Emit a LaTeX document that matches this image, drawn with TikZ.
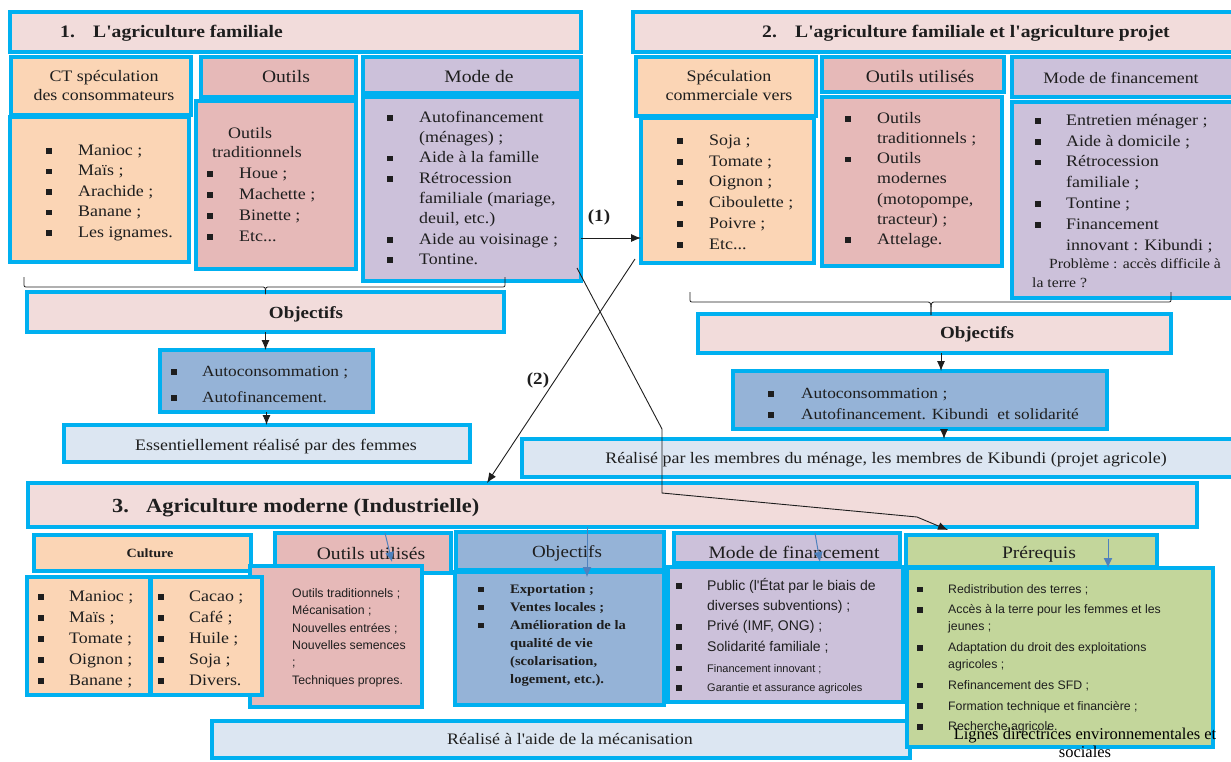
\documentclass[tikz,border=0pt]{standalone}
\usepackage{fontspec}
\setmainfont{Liberation Serif}[FakeStretch=1.12,Ligatures=TeXOff]
\newfontfamily\arialfont{Liberation Sans}
\newfontfamily\timesfont{Liberation Serif}
\usetikzlibrary{arrows.meta,calc}

\definecolor{frame}{HTML}{00B0F0}
\definecolor{titlefill}{HTML}{F2DCDB}
\definecolor{orangefill}{HTML}{FBD5B5}
\definecolor{pinkfill}{HTML}{E6B9B8}
\definecolor{purplefill}{HTML}{CCC1DA}
\definecolor{bluefill}{HTML}{95B3D7}
\definecolor{palefill}{HTML}{DCE6F2}
\definecolor{greenfill}{HTML}{C3D69B}
\definecolor{steel}{HTML}{4F81BD}
\definecolor{ink}{HTML}{1E1E1E}

% square bullet and item helpers
\newcommand\sq{\rule[0.09em]{5.5pt}{5.5pt}}
\newcommand\bi[1]{\makebox[#1][l]{\sq}}
\newcommand\fs[2]{\fontsize{#1}{#2}\selectfont}

% a framed panel given by its corners (x1,y1)-(x2,y2)
\newcommand\panelbox[6]{%
  \node[panel,fill=#6,minimum width={(#4-#2)*1pt},minimum height={(#5-#3)*1pt}] (#1) at (#2,#3) {};}

% a thin curly bracket: x1, xm, x2, ytop, yline, ytip
\newcommand\curlybrace[6]{%
  \draw[bracket] (#1,#4) -- (#1,#5-4) .. controls (#1,#5) .. (#1+4,#5) -- (#2-4,#5)
     .. controls (#2,#5) .. (#2,#6);
  \draw[bracket] (#2,#6) .. controls (#2,#5) .. (#2+4,#5) -- (#3-4,#5)
     .. controls (#3,#5) .. (#3,#5-4) -- (#3,#4);}

\tikzset{
  panel/.style={draw=frame, line width=3.2pt, anchor=north west, inner sep=0pt, outer sep=0pt},
  lst/.style={anchor=north west, inner sep=0pt, align=left, text=ink},
  hd/.style={anchor=base, inner sep=0pt, text=ink},
  arr/.style={draw=ink, line width=0.9pt, -{Latex[length=10pt,width=8pt]}},
  barr/.style={draw=steel, line width=1pt, -{Latex[length=10pt,width=9pt]}},
  bracket/.style={draw=ink, line width=0.8pt},
}

\begin{document}
\begin{tikzpicture}[x=1pt,y=-1pt]
\useasboundingbox (0,0) rectangle (1231,761);

% ---------- 1. family farming ----------
\panelbox{t1}{10}{12}{581}{52}{titlefill}
\panelbox{h1a}{11}{57}{191}{115}{orangefill}
\panelbox{h1b}{201}{57}{356}{97}{pinkfill}
\panelbox{h1c}{363}{57}{581}{93}{purplefill}
\panelbox{l1a}{10}{117}{189}{262}{orangefill}
\panelbox{l1b}{196}{101}{356}{269}{pinkfill}
\panelbox{l1c}{363}{97}{581}{281}{purplefill}
\panelbox{obj1}{27}{292}{504}{332}{titlefill}
\panelbox{b1}{160}{350}{373}{412}{bluefill}
\panelbox{e1}{64}{425}{470}{462}{palefill}

% ---------- 2. family and project farming ----------
\panelbox{t2}{633}{12}{1236}{52}{titlefill}
\panelbox{h2a}{636}{57}{816}{116}{orangefill}
\panelbox{h2b}{822}{57}{1004}{92}{pinkfill}
\panelbox{h2c}{1012}{57}{1236}{97}{purplefill}
\panelbox{l2a}{641}{118}{814}{263}{orangefill}
\panelbox{l2b}{822}{97}{1002}{266}{pinkfill}
\panelbox{l2c}{1012}{102}{1236}{298}{purplefill}
\panelbox{obj2}{698}{314}{1171}{353}{titlefill}
\panelbox{b2}{733}{371}{1107}{429}{bluefill}
\panelbox{e2}{522}{439}{1236}{477}{palefill}

% ---------- 3. modern farming ----------
\panelbox{t3}{28}{483}{1197}{527}{titlefill}
\panelbox{c3}{34}{535}{251}{571}{orangefill}
\panelbox{h3b}{275}{533}{451}{573}{pinkfill}
\panelbox{l3p}{250}{566}{422}{707}{pinkfill}
\panelbox{l3a}{27}{577}{150}{695}{orangefill}
\panelbox{l3b}{151}{577}{262}{695}{orangefill}
\panelbox{h3c}{456}{532}{664}{570}{bluefill}
\panelbox{l3c}{455}{572}{664}{705}{bluefill}
\panelbox{h3d}{674}{533}{900}{563}{purplefill}
\panelbox{l3d}{668}{567}{903}{702}{purplefill}
\panelbox{e3}{212}{721}{910}{758}{palefill}
\panelbox{h3e}{906}{535}{1157}{567}{greenfill}
\panelbox{l3e}{907}{568}{1213}{747}{greenfill}

% ---------- texts, part 1 ----------
\node[anchor=base west, inner sep=0pt, text=ink, font=\bfseries\fs{17.5}{20}] (t1-txt) at (60,37)
  {\makebox[33pt][l]{1.}L'agriculture familiale};
\node[lst, anchor=north, align=center, font=\fs{16}{19}] (h1a-txt) at (104,81-14.4)
  {\rule{0pt}{14.4pt}CT spéculation\\des consommateurs};
\node[hd, font=\fs{17.5}{20}] (h1b-txt) at (286,82) {Outils};
\node[hd, font=\fs{17.5}{20}] (h1c-txt) at (479,82) {Mode de};
\node[lst, font=\fs{16}{20.5}] (l1a-txt) at (46,155-14.4)
  {\rule{0pt}{14.4pt}\bi{32pt}Manioc ;\\\bi{32pt}Maïs ;\\\bi{32pt}Arachide ;\\\bi{32pt}Banane ;\\\bi{32pt}Les ignames.};
\node[lst, font=\fs{16}{21}] (l1b-txt) at (207,138-14.4)
  {\rule{0pt}{14.4pt}\hspace*{21pt}Outils\\[-2pt]\hspace*{5pt}traditionnels\\\bi{32pt}Houe ;\\\bi{32pt}Machette ;\\\bi{32pt}Binette ;\\\bi{32pt}Etc...};
\node[lst, font=\fs{16}{20.3}] (l1c-txt) at (387,122-14.4)
  {\rule{0pt}{14.4pt}\bi{32pt}Autofinancement\\\hspace*{32pt}(ménages) ;\\\bi{32pt}Aide à la famille\\\bi{32pt}Rétrocession\\\hspace*{32pt}familiale (mariage,\\\hspace*{32pt}deuil, etc.)\\\bi{32pt}Aide au voisinage ;\\\bi{32pt}Tontine.};
\node[hd, font=\bfseries\fs{17}{20}] (obj1-txt) at (306,318) {Objectifs};
\node[lst, font=\fs{15.5}{26}] (b1-txt) at (171,376-14)
  {\rule{0pt}{14pt}\bi{31pt}Autoconsommation ;\\\bi{31pt}Autofinancement.};
\node[hd, font=\fs{16}{19}] (e1-txt) at (276,450) {Essentiellement réalisé par des femmes};

% ---------- texts, part 2 ----------
\node[anchor=base west, inner sep=0pt, text=ink, font=\bfseries\fs{17.5}{20}] (t2-txt) at (762,37)
  {\makebox[33pt][l]{2.}L'agriculture familiale et l'agriculture projet};
\node[lst, anchor=north, align=center, font=\fs{16}{19}] (h2a-txt) at (729,81-14.4)
  {\rule{0pt}{14.4pt}Spéculation\\commerciale vers};
\node[hd, font=\fs{17.5}{20}] (h2b-txt) at (920,82) {Outils utilisés};
\node[hd, font=\fs{15.9}{19}] (h2c-txt) at (1121,83) {Mode de financement};
\node[lst, font=\fs{16}{20.8}] (l2a-txt) at (677,145-14.4)
  {\rule{0pt}{14.4pt}\bi{32pt}Soja ;\\\bi{32pt}Tomate ;\\\bi{32pt}Oignon ;\\\bi{32pt}Ciboulette ;\\\bi{32pt}Poivre ;\\\bi{32pt}Etc...};
\node[lst, font=\fs{16}{20.2}] (l2b-txt) at (845,123-14.4)
  {\rule{0pt}{14.4pt}\bi{32pt}Outils\\\hspace*{32pt}traditionnels ;\\\bi{32pt}Outils\\\hspace*{32pt}modernes\\\hspace*{32pt}(motopompe,\\\hspace*{32pt}tracteur) ;\\\bi{32pt}Attelage.};
\node[lst, font=\fs{16}{20.8}] (l2c-txt) at (1035,125-14.4)
  {\rule{0pt}{14.4pt}\bi{31pt}Entretien ménager ;\\\bi{31pt}Aide à domicile ;\\\bi{31pt}Rétrocession\\\hspace*{31pt}familiale ;\\\bi{31pt}Tontine ;\\\bi{31pt}Financement\\\hspace*{31pt}innovant : Kibundi ;};
\node[lst, font=\fs{14}{19}] (l2c-note) at (1032,268-12.6)
  {\rule{0pt}{12.6pt}\hspace*{17pt}Problème : accès difficile à\\la terre ?};
\node[hd, font=\bfseries\fs{17}{20}] (obj2-txt) at (977,338) {Objectifs};
\node[lst, font=\fs{15.5}{21}] (b2-txt) at (768,398-14)
  {\rule{0pt}{14pt}\bi{33pt}Autoconsommation ;\\\bi{33pt}Autofinancement. Kibundi\ \ et solidarité};
\node[hd, font=\fs{16}{19}] (e2-txt) at (886,463)
  {Réalisé par les membres du ménage, les membres de Kibundi (projet agricole)};

% ---------- texts, part 3 ----------
\node[anchor=base west, inner sep=0pt, text=ink, font=\bfseries\fs{20}{24}] (t3-txt) at (112,512)
  {\makebox[34pt][l]{3.}Agriculture moderne (Industrielle)};
\node[hd, font=\bfseries\fs{12.6}{15}] (c3-txt) at (150,557) {Culture};
\node[lst, font=\fs{16}{21}] (l3a-txt) at (38,601-14.4)
  {\rule{0pt}{14.4pt}\bi{31pt}Manioc ;\\\bi{31pt}Maïs ;\\\bi{31pt}Tomate ;\\\bi{31pt}Oignon ;\\\bi{31pt}Banane ;};
\node[lst, font=\fs{16}{21}] (l3b-txt) at (158,601-14.4)
  {\rule{0pt}{14.4pt}\bi{31pt}Cacao ;\\\bi{31pt}Café ;\\\bi{31pt}Huile ;\\\bi{31pt}Soja ;\\\bi{31pt}Divers.};
\node[hd, font=\fs{17.5}{20}] (h3b-txt) at (371,559) {Outils utilisés};
\node[lst, font=\arialfont\fs{12.3}{17.4}] (l3p-txt) at (292,597-11.1)
  {\rule{0pt}{11.1pt}Outils traditionnels ;\\Mécanisation ;\\Nouvelles entrées ;\\Nouvelles semences\\;\\Techniques propres.};
\node[hd, font=\fs{17}{20}] (h3c-txt) at (567,557) {Objectifs};
\node[lst, font=\bfseries\fs{13}{18}] (l3c-txt) at (478,593-11.7)
  {\rule{0pt}{11.7pt}\bi{32pt}Exportation ;\\\bi{32pt}Ventes locales ;\\\bi{32pt}Amélioration de la\\\hspace*{32pt}qualité de vie\\\hspace*{32pt}(scolarisation,\\\hspace*{32pt}logement, etc.).};
\node[hd, font=\fs{17.5}{20}] (h3d-txt) at (794,558) {Mode de financement};
\node[lst, font=\arialfont\fs{14}{20.3}] (l3d-txt) at (676,590-12.6)
  {\rule{0pt}{12.6pt}\bi{31pt}Public (l'État par le biais de\\\hspace*{31pt}diverses subventions) ;\\\bi{31pt}Privé (IMF, ONG) ;\\\bi{31pt}Solidarité familiale ;};
\node[lst, font=\arialfont\fs{11}{19.5}] (l3d-more) at (676,672-9.9)
  {\rule{0pt}{9.9pt}\bi{31pt}Financement innovant ;\\\bi{31pt}Garantie et assurance agricoles};
\node[hd, font=\fs{17.5}{20}] (h3e-txt) at (1039,558) {Prérequis};
\node[lst, font=\arialfont\fs{12.3}{17}] (l3e-txt) at (917,593-11.1)
  {\rule{0pt}{11.1pt}\bi{31pt}Redistribution des terres ;\\[3.7pt]\bi{31pt}Accès à la terre pour les femmes et les\\\hspace*{31pt}jeunes ;\\[3.7pt]\bi{31pt}Adaptation du droit des exploitations\\\hspace*{31pt}agricoles ;\\[3.7pt]\bi{31pt}Refinancement des SFD ;\\[3.7pt]\bi{31pt}Formation technique et financière ;\\[3.7pt]\bi{31pt}Recherche agricole.};
\node[lst, anchor=north, align=center, text=black, font=\timesfont\fs{16.5}{18}] (l3e-note) at (1085,739-14.8)
  {\rule{0pt}{14.8pt}Lignes directrices environnementales et\\sociales};
\node[anchor=base west, inner sep=0pt, text=ink, font=\fs{16}{19}] (e3-txt) at (447,744)
  {Réalisé à l'aide de la mécanisation};

% ---------- brackets ----------
\curlybrace{24}{265.5}{505}{277}{287}{294}
\curlybrace{690}{931}{1171}{292}{302}{315}

% ---------- connectors ----------
\draw[arr] (obj1.south) -- (obj1.south |- b1.north);
\draw[arr] (b1.south) -- (b1.south |- e1.north);
\draw[arr] ([xshift=6.5pt]obj2.south) -- ([xshift=6.5pt]obj2.south |- b2.north);
\draw[arr] ([xshift=24pt]b2.south) -- ([xshift=24pt]b2.south |- e2.north);

\draw[arr] ([yshift=-49pt]l1c.east) -- ([yshift=-47.5pt]l2a.west);
\node[inner sep=0pt, text=ink, font=\bfseries\fs{17}{20}] (lab1) at (599,217) {(1)};

\draw[arr] ([xshift=-6pt,yshift=4pt]l2a.south west) -- ([xshift=-125.5pt]t3.north);
\node[inner sep=0pt, text=ink, font=\bfseries\fs{17}{20}] (lab2) at (538,380) {(2)};

\draw[arr] ([xshift=-4pt,yshift=13pt]l1c.south east) -- ++(85,161) -- ++(0,64) -- ++(255,24)
   -- ([xshift=42pt,yshift=5pt]h3e.north west);

\draw[barr] ([xshift=22pt]h3b.north) -- ([xshift=56pt,yshift=4pt]l3p.north);
\draw[barr] ([xshift=27pt]h3c.north |- t3.south) -- ([xshift=27.5pt,yshift=-5pt]l3c.north);
\draw[barr] ([xshift=28pt]h3d.north) -- ([xshift=34.5pt,yshift=5pt]l3d.north);
\draw[barr] ([xshift=76.5pt,yshift=-4pt]h3e.north) -- ([xshift=48pt]l3e.north);

\end{tikzpicture}
\end{document}
